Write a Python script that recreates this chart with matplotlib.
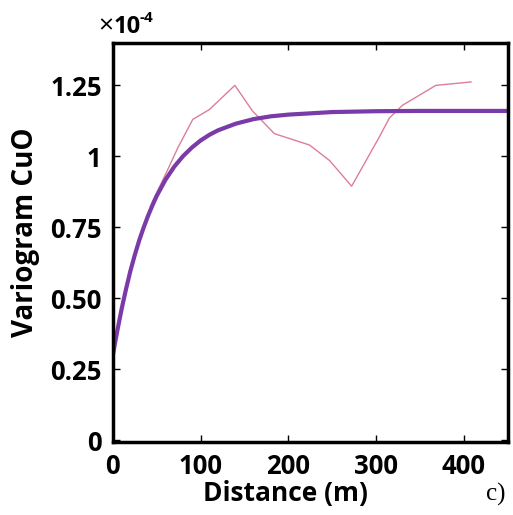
import numpy as np
import matplotlib.pyplot as plt

# experimental variogram (thin pink line), values in units of 1e-4
lag_exp = [10, 15, 30, 45, 62, 74, 91, 110, 139, 159, 184, 224, 247, 272,
           303, 315, 330, 349, 368, 408]
gam_exp = [0.46, 0.54, 0.71, 0.84, 0.95, 1.03, 1.13, 1.165, 1.25, 1.16, 1.08,
           1.04, 0.985, 0.895, 1.065, 1.135, 1.18, 1.215, 1.25, 1.262]

# fitted model (thick purple line)
lag_fit = [0, 2.5, 5, 10, 15, 20, 25, 30, 35, 40, 45, 50, 60, 70, 80, 90,
           100, 110, 120, 140, 160, 180, 200, 250, 300, 350, 400, 450]
gam_fit = [0.30, 0.343, 0.385, 0.463, 0.533, 0.597, 0.653, 0.704, 0.749,
           0.790, 0.827, 0.861, 0.918, 0.964, 1.001, 1.031, 1.056, 1.076,
           1.092, 1.115, 1.131, 1.141, 1.147, 1.156, 1.159, 1.16, 1.16, 1.16]

xticks = [0, 100, 200, 300, 400]
yticks = [0, 0.25, 0.5, 0.75, 1.0, 1.25]
ylabels = ['0', '0.25', '0.50', '0.75', '1', '1.25']

font = 'Open Sans'

fig = plt.figure(figsize=(5.13, 5.15), dpi=100)
ax = fig.add_axes([0.220, 0.142, 0.770, 0.775])

ax.plot(lag_exp, gam_exp, color='#d9708c', linewidth=1.0, alpha=0.9)
ax.plot(lag_fit, gam_fit, color='#7a3aa8', linewidth=3.0)

ax.set_xlim(0, 450)
ax.set_ylim(-0.005, 1.4)
ax.set_xticks(xticks)
ax.set_yticks(yticks)
ax.set_yticklabels(ylabels)
ax.tick_params(direction='in', length=5, width=1, top=True, right=True,
               labelsize=18.5)
ax.tick_params(axis='x', pad=8)
ax.tick_params(axis='y', pad=8)
for lab in ax.get_xticklabels() + ax.get_yticklabels():
    lab.set_fontfamily(font)
    lab.set_fontweight('bold')
for sp in ax.spines.values():
    sp.set_linewidth(2.5)

ax.set_xlabel('Distance (m)', fontsize=19, fontweight='bold', family=font)
ax.xaxis.set_label_coords(0.438, -0.095)
ax.set_ylabel('Variogram CuO', fontsize=20, fontweight='bold', family=font)
ax.yaxis.set_label_coords(-0.185, 0.524)

fig.text(0.192, 0.936, '\u00d7', fontsize=19, family=font,
         ha='left', va='baseline')
fig.text(0.221, 0.936, '10', fontsize=17, fontweight='bold', family=font,
         ha='left', va='baseline')
fig.text(0.272, 0.958, '-4', fontsize=11, fontweight='bold', family=font,
         ha='left', va='baseline')

fig.text(0.967, 0.039, 'c)', fontsize=18, family='Liberation Serif',
         ha='center', va='center')

fig.savefig('out.png', dpi=100)
